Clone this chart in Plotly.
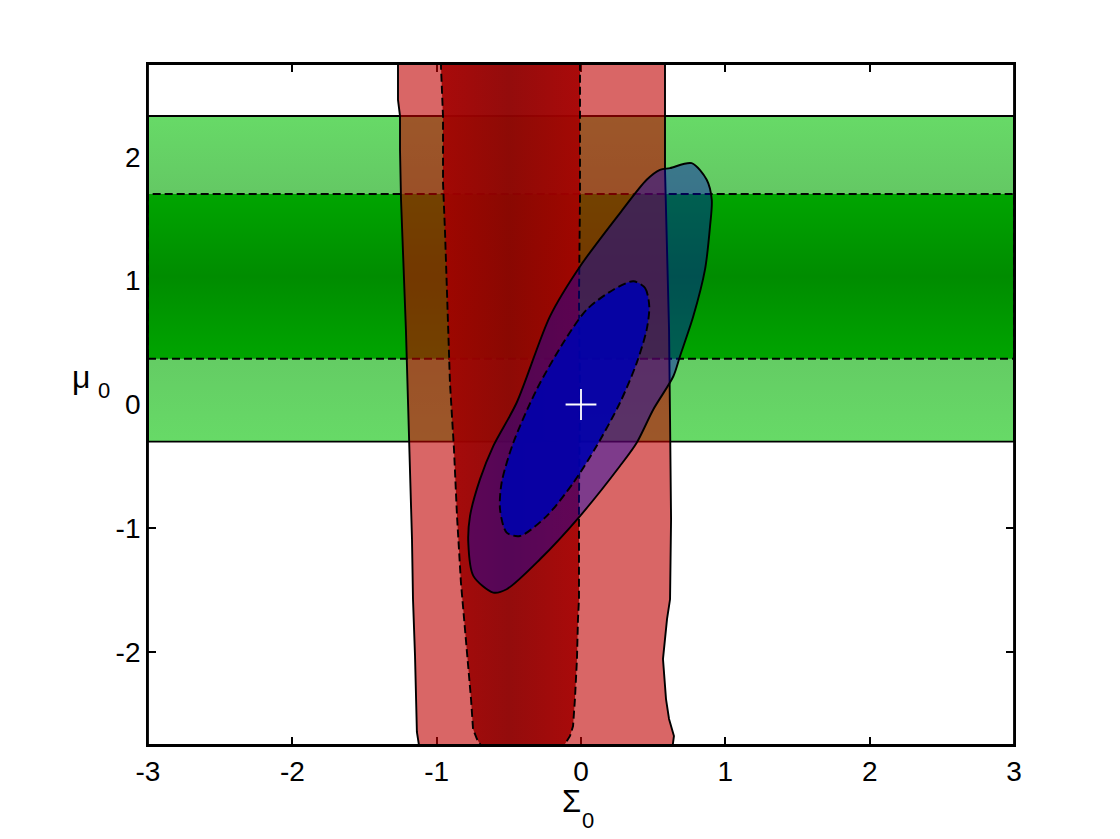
import plotly.graph_objects as go

# ---------------- data ----------------
x_ticks = [-3, -2, -1, 0, 1, 2, 3]
x_tick_labels = ["-3", "-2", "-1", "0", "1", "2", "3"]
y_ticks = [-2, -1, 0, 1, 2]
y_tick_labels = ["-2", "-1", "0", "1", "2"]

# green band: mu0 constraint (outer = 2 sigma, inner = 1 sigma)
green_outer = [-0.30, 2.33]
green_inner = [0.37, 1.70]

# red band: Sigma0 constraint, outer (2 sigma) left edge bottom->top
red_outer_left_x = [-1.116, -1.137, -1.150, -1.164, -1.171, -1.185, -1.192, -1.199,
                    -1.213, -1.234, -1.247, -1.254, -1.254, -1.268, -1.268]
red_outer_left_y = [-2.80, -2.645, -2.032, -1.573, -1.089, -0.605, -0.282, 0.040,
                    0.605, 1.169, 1.653, 2.056, 2.331, 2.460, 2.80]
# outer right edge top->bottom
red_outer_right_x = [0.582, 0.582, 0.582, 0.596, 0.610, 0.617, 0.624, 0.617,
                     0.596, 0.568, 0.589, 0.610, 0.644, 0.630]
red_outer_right_y = [2.80, 2.331, 1.895, 1.250, 0.605, -0.121, -0.927, -1.573,
                     -1.734, -2.056, -2.379, -2.540, -2.677, -2.80]
# inner (1 sigma) left edge bottom->top
red_inner_left_x = [-0.693, -0.700, -0.721, -0.748, -0.762, -0.790, -0.818, -0.832,
                    -0.859, -0.880, -0.908, -0.929, -0.942, -0.956, -0.956, -0.970, -0.970]
red_inner_left_y = [-2.80, -2.742, -2.702, -2.621, -2.379, -1.976, -1.573, -1.435,
                    -0.903, -0.363, 0.177, 0.984, 1.387, 1.790, 2.323, 2.726, 2.80]
# inner right edge top->bottom
red_inner_right_x = [-0.007, -0.007, -0.014, -0.007, -0.014, -0.014, -0.021, -0.028,
                     -0.042, -0.055, -0.076, -0.111, -0.132]
red_inner_right_y = [2.80, 1.653, 0.847, 0.040, -0.766, -1.573, -1.734, -2.056,
                     -2.379, -2.597, -2.677, -2.742, -2.80]

# blue joint contour, outer (2 sigma)
blue_outer_x = [-0.608, -0.746, -0.781, -0.769, -0.700, -0.608, -0.446, -0.215, -0.007,
                0.270, 0.455, 0.547, 0.617, 0.767, 0.871, 0.906, 0.894, 0.859, 0.778,
                0.686, 0.640, 0.501, 0.386, 0.270, -0.007, -0.284, -0.515, -0.608]
blue_outer_y = [-1.519, -1.384, -1.115, -0.901, -0.605, -0.336, 0.014, 0.712, 1.115,
                1.546, 1.815, 1.895, 1.909, 1.949, 1.815, 1.653, 1.438, 1.089, 0.712,
                0.390, 0.228, -0.040, -0.309, -0.497, -0.901, -1.250, -1.492, -1.519]
# blue joint contour, inner (1 sigma)
blue_inner_x = [0.363, 0.444, 0.473, 0.455, 0.386, 0.270, 0.108, -0.053, -0.238, -0.423,
                -0.515, -0.561, -0.550, -0.469, -0.307, -0.123, 0.039, 0.224, 0.363]
blue_inner_y = [0.995, 0.941, 0.793, 0.605, 0.336, 0.014, -0.336, -0.632, -0.901, -1.062,
                -1.035, -0.847, -0.632, -0.309, 0.121, 0.498, 0.766, 0.927, 0.995]

# fiducial point
fid_x = [0.0]
fid_y = [0.0]

# ---------------- figure ----------------
fig = go.Figure()
LW = 1.9
DASH = "8px,4px"

def band(lo, hi):
    return [-3, 3, 3, -3, -3], [lo, lo, hi, hi, lo]

gx, gy = band(*green_outer)
g_lo, g_hi = green_outer
i_lo, i_hi = green_inner
span = g_hi - g_lo
fig.add_trace(go.Scatter(
    x=gx, y=gy, mode="lines", fill="toself",
    line=dict(color="black", width=LW),
    fillgradient=dict(type="vertical", start=g_lo, stop=g_hi,
                      colorscale=[[0, "rgb(103,218,103)"],
                                  [(i_lo - g_lo) / span, "rgb(100,204,100)"],
                                  [(i_hi - g_lo) / span, "rgb(100,200,100)"],
                                  [1, "rgb(103,218,103)"]]),
    hoverinfo="skip", showlegend=False))

gx, gy = band(*green_inner)
fig.add_trace(go.Scatter(
    x=gx, y=gy, mode="lines", fill="toself",
    line=dict(color="black", width=LW, dash=DASH),
    fillgradient=dict(type="vertical", start=i_lo, stop=i_hi,
                      colorscale=[[0, "rgb(0,165,0)"], [0.5, "rgb(0,140,0)"],
                                  [1, "rgb(0,165,0)"]]),
    hoverinfo="skip", showlegend=False))

fig.add_trace(go.Scatter(
    x=red_outer_left_x + red_outer_right_x + red_outer_left_x[:1],
    y=red_outer_left_y + red_outer_right_y + red_outer_left_y[:1],
    mode="lines", fill="toself", fillcolor="rgba(192,0,0,0.6)",
    line=dict(color="black", width=LW),
    hoverinfo="skip", showlegend=False))

fig.add_trace(go.Scatter(
    x=red_inner_left_x + red_inner_right_x + red_inner_left_x[:1],
    y=red_inner_left_y + red_inner_right_y + red_inner_left_y[:1],
    mode="lines", fill="toself",
    line=dict(color="black", width=LW, dash=DASH),
    fillgradient=dict(type="horizontal", start=-1.0, stop=0.0,
                      colorscale=[[0, "rgba(165,0,0,0.9)"], [0.5, "rgba(140,2,2,0.9)"],
                                  [1, "rgba(165,0,0,0.9)"]]),
    hoverinfo="skip", showlegend=False))

fig.add_trace(go.Scatter(
    x=blue_outer_x, y=blue_outer_y, mode="lines", fill="toself",
    fillcolor="rgba(0,0,190,0.42)",
    line=dict(color="black", width=LW, shape="spline", smoothing=0.8),
    hoverinfo="skip", showlegend=False))

fig.add_trace(go.Scatter(
    x=blue_inner_x, y=blue_inner_y, mode="lines", fill="toself",
    fillcolor="rgba(0,0,172,0.9)",
    line=dict(color="black", width=LW, dash=DASH, shape="spline", smoothing=0.8),
    hoverinfo="skip", showlegend=False))

fig.add_trace(go.Scatter(
    x=fid_x, y=fid_y, mode="markers",
    marker=dict(symbol="cross-thin", size=22, line=dict(color="white", width=1.8)),
    hoverinfo="skip", showlegend=False))

FONT = "Liberation Sans, Arial, Helvetica, sans-serif"
axis_common = dict(
    showgrid=False, zeroline=False, showline=True, linecolor="black", linewidth=1.8,
    ticks="inside", ticklen=8, tickwidth=2, tickcolor="black", mirror="ticks",
    layer="below traces", tickfont=dict(family=FONT, size=28, color="black"),
)
fig.update_xaxes(range=[-3, 3], tickvals=x_ticks, ticktext=x_tick_labels, **axis_common)
fig.update_yaxes(range=[-2.75, 2.75], tickvals=y_ticks, ticktext=y_tick_labels,
                 ticklabelstandoff=0, **axis_common)

# page body has an 8px margin, so the figure is offset by it
OFF = 8
W, H = 1120 - OFF, 839 - OFF
L, R, T, B = 148 - OFF, 106, 64 - OFF, 94

# reference plot area (in page pixels) used to place text labels
PL, PR, PT, PB = 148, 1014, 64, 745

def px(xp, yp):
    return (xp - PL) / (PR - PL), (PB - yp) / (PB - PT)

fig.add_shape(type="rect", xref="paper", yref="paper", x0=0, y0=0, x1=1, y1=1,
              line=dict(color="black", width=1.8), layer="above")

anns = []
for txt, (xp, yp), size in [("Σ", (571, 801), 31), ("0", (588, 820), 22),
                            ("μ", (81, 377), 32), ("0", (104, 391), 22)]:
    ax, ay = px(xp, yp)
    anns.append(dict(text=txt, x=ax, y=ay, xref="paper", yref="paper",
                     showarrow=False, xanchor="center", yanchor="middle",
                     font=dict(family=FONT, size=size, color="black")))

fig.update_layout(
    width=W, height=H, margin=dict(l=L, r=R, t=T, b=B),
    paper_bgcolor="white", plot_bgcolor="white",
    annotations=anns,
)

fig.write_html("out.html")
